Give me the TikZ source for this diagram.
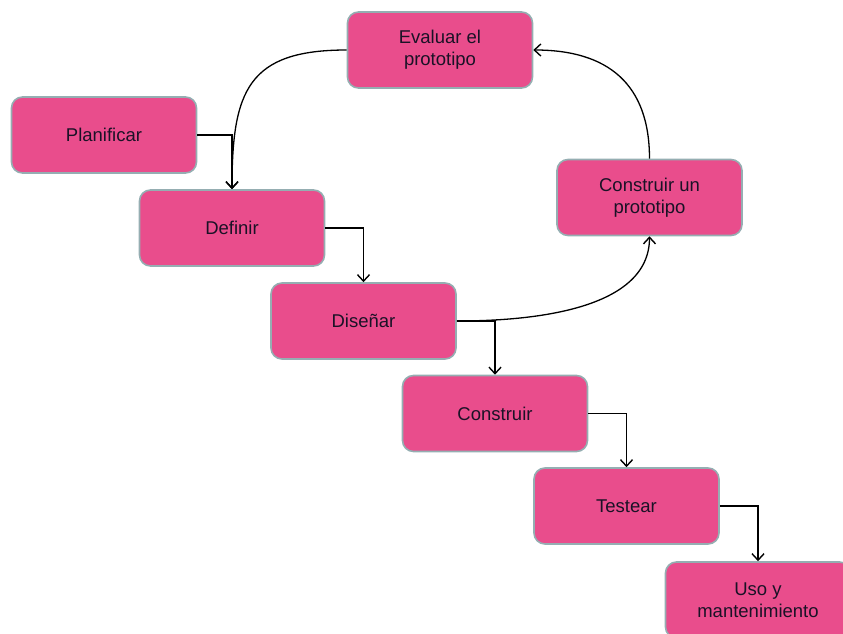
\documentclass[tikz,border=0pt]{standalone}
\usepackage{fontspec}
\setmainfont{Liberation Sans}
\usetikzlibrary{arrows.meta}
\definecolor{boxfill}{HTML}{E94D8C}
\definecolor{boxline}{HTML}{95AEB2}
\definecolor{txt}{HTML}{1A1226}
\begin{document}
\begin{tikzpicture}[x=1pt,y=-1pt,
  stepbox/.style={draw=boxline, line width=1.6pt, fill=boxfill, rounded corners=11pt,
    minimum width=185pt, minimum height=76pt, align=center, text=txt,
    font=\fontsize{18.5}{22}\selectfont, inner sep=2pt},
  conn/.style={line width=1.3pt, -{Straight Barb[length=6.5pt,width=12pt,line width=1.4pt]}}]
\useasboundingbox (0,0) rectangle (843,634);
\clip (0,0) rectangle (843,634);
\node[stepbox] (plan) at (104,135) {Planificar};
\node[stepbox] (def) at (232,228) {Definir};
\node[stepbox] (dis) at (363.5,321) {Diseñar};
\node[stepbox] (cons) at (495,413.5) {Construir};
\node[stepbox] (test) at (626.5,506) {Testear};
\node[stepbox] (uso) at (758,600) {Uso y\\mantenimiento};
\node[stepbox] (eval) at (440,50) {Evaluar el\\prototipo};
\node[stepbox] (proto) at (649.5,197.5) {Construir un\\prototipo};
\draw[conn] (plan.east) -| (def.north);
\draw[conn] (def.east) -| (dis.north);
\draw[conn] (dis.east) -| (cons.north);
\draw[conn] (cons.east) -| (test.north);
\draw[conn] (test.east) -| (uso.north);
\draw[conn] (eval.west) to[out=180,in=90,looseness=1.4] (def.north);
\draw[conn] (proto.north) to[out=90,in=0,looseness=1.2] (eval.east);
\draw[conn] (dis.east) to[out=0,in=-90,looseness=0.9] (proto.south);
\end{tikzpicture}
\end{document}
